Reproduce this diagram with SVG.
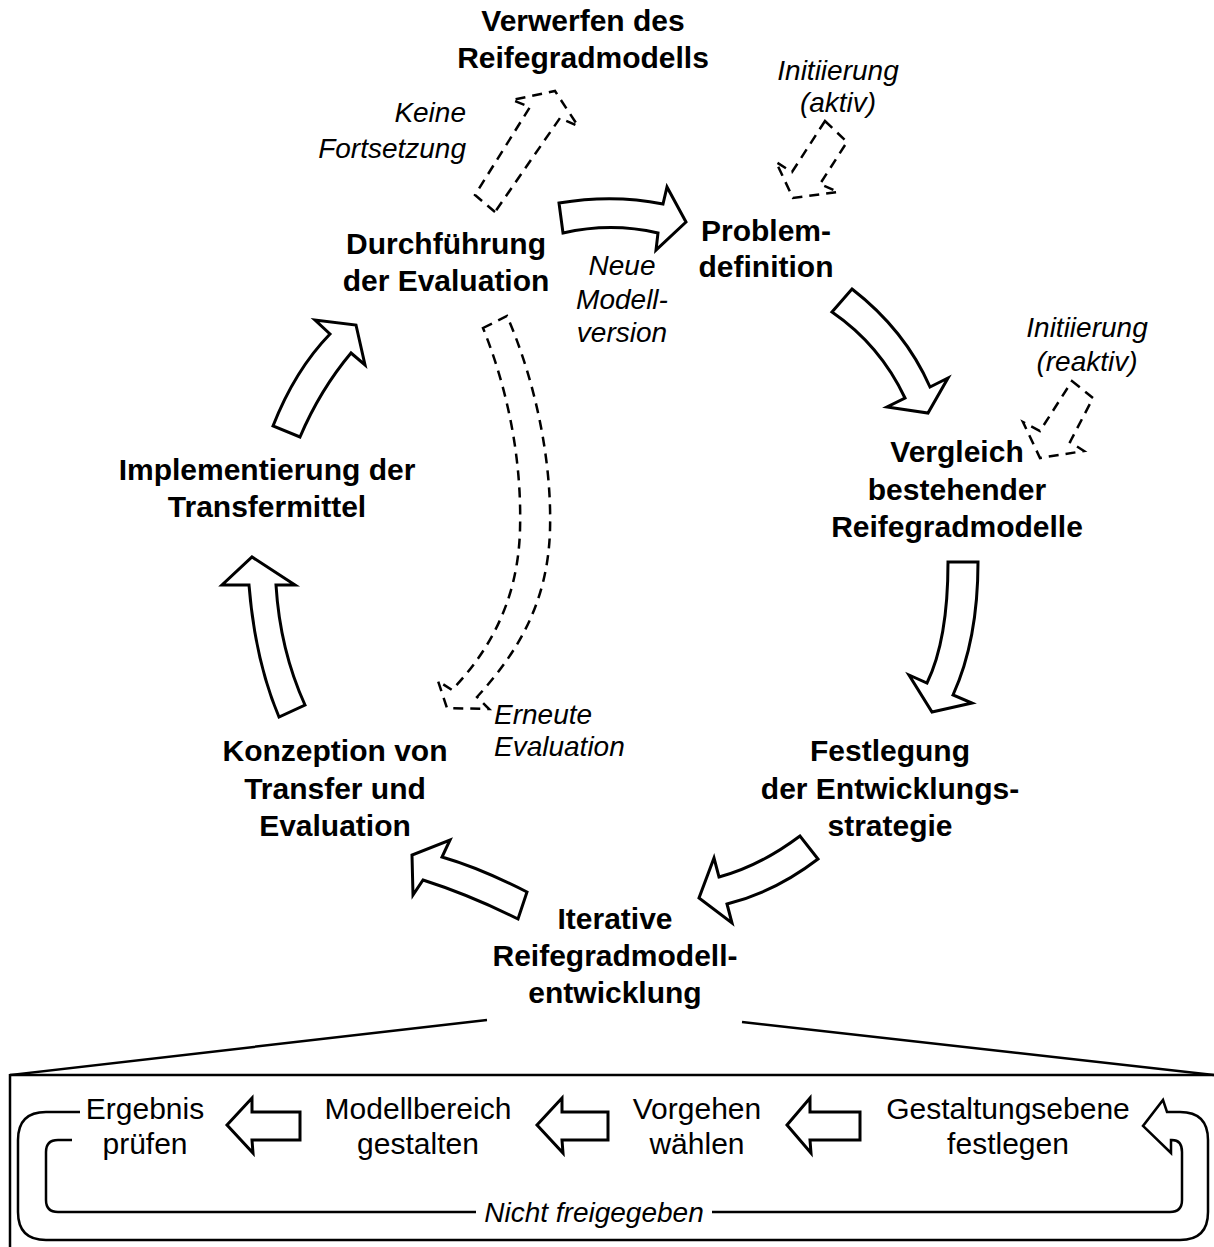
<svg xmlns="http://www.w3.org/2000/svg" width="1214" height="1247" viewBox="0 0 1214 1247">
<style>
.b{font-family:"Liberation Sans",Arial,sans-serif;font-weight:bold;font-size:30px;fill:#000;text-anchor:middle}
.i{font-family:"Liberation Sans",Arial,sans-serif;font-style:italic;font-size:28px;fill:#000}
.r{font-family:"Liberation Sans",Arial,sans-serif;font-size:30px;fill:#000;text-anchor:middle}
.a{fill:#fff;stroke:#000;stroke-width:3;stroke-linejoin:miter}
.d{fill:#fff;stroke:#000;stroke-width:2.5;stroke-dasharray:10 7}
.l{fill:none;stroke:#000;stroke-width:2.5}
</style>
<rect width="1214" height="1247" fill="#fff"/>
<g id="connectors">
<path class="a" d="M559,203 Q613,194 663,204 L667,187 L686,222 L656,250 L658,233 Q611,222 563,233 Z"/>
<path class="a" d="M852,289 Q905,330 930,387 L948,378 L928,413 L887,407 L905,398 Q880,345 832,312 Z"/>
<path class="a" d="M948,562 L978,562 Q978,640 953,695 L972,703 L932,712 L909,675 L927,683 Q948,640 948,562 Z"/>
<path class="a" d="M800,836 Q760,866 719,877 L714,858 L699,898 L732,923 L727,904 Q775,892 818,859 Z"/>
<path class="a" d="M527,892 Q480,868 442,857 L450,840 L412,855 L413,895 L423,880 Q470,895 518,919 Z"/>
<path class="a" d="M279,717 Q255,660 249,585 L222,585 L252,557 L295,585 L276,585 Q280,650 305,705 Z"/>
<path class="a" d="M273,426 Q295,370 330,334 L315,320 L356,325 L365,365 L351,353 Q320,390 300,437 Z"/>
<path class="d" d="M495,212 L475,195 L530,107 L512,100 L555,91 L578,126 L560,118 Z"/>
<path class="d" d="M825,121 L847,142 L820,184 L838,192 L793,198 L776,162 L792,172 Z"/>
<path class="d" d="M1072,381 L1093,398 L1070,442 L1084,451 L1040,458 L1023,422 L1040,431 Z"/>
<path class="d" d="M483,328 L507,316 C535,380 552,460 550,530 C548,600 520,650 477,697 L489,709 L447,708 L438,681 L452,690 C490,650 518,600 520,530 C522,460 508,390 483,328 Z"/>
<path class="l" d="M487,1020 L10,1075 L10,1260"/>
<path class="l" d="M10,1075 L1220,1075"/>
<path class="l" d="M742,1022 L1214,1075"/>
<path class="l" d="M80,1112 L46,1112 Q18,1112 18,1140 L18,1212 Q18,1240 46,1240 L1180,1240 Q1208,1240 1208,1212 L1208,1140 Q1208,1112 1180,1112 L1167,1112 L1163,1100 L1143,1126 L1171,1153 L1171,1140 L1172,1140 Q1182,1140 1182,1152 L1182,1200 Q1182,1212 1170,1212 L712,1212"/>
<path class="l" d="M476,1212 L58,1212 Q46,1212 46,1200 L46,1152 Q46,1140 58,1140 L72,1140"/>
<path class="a" d="M227,1125 L252,1098 L252,1112 L300,1112 L300,1140 L252,1140 L253,1153 Z"/>
<path class="a" d="M537,1125 L562,1098 L562,1112 L608,1112 L608,1140 L562,1140 L563,1153 Z"/>
<path class="a" d="M787,1125 L810,1098 L810,1112 L860,1112 L860,1140 L810,1140 L811,1153 Z"/>
</g>
<g id="n-verwerfen"><text class="b" x="583" y="31">Verwerfen des</text><text class="b" x="583" y="68">Reifegradmodells</text></g>
<g id="l-keine"><text class="i" x="466" y="122" text-anchor="end">Keine</text><text class="i" x="466" y="158" text-anchor="end">Fortsetzung</text></g>
<g id="l-init-aktiv"><text class="i" x="838" y="80" text-anchor="middle">Initiierung</text><text class="i" x="838" y="112" text-anchor="middle">(aktiv)</text></g>
<g id="n-durchfuehrung"><text class="b" x="446" y="254">Durchführung</text><text class="b" x="446" y="291">der Evaluation</text></g>
<g id="n-problem"><text class="b" x="766" y="241">Problem-</text><text class="b" x="766" y="277">definition</text></g>
<g id="l-neue"><text class="i" x="622" y="275" text-anchor="middle">Neue</text><text class="i" x="622" y="309" text-anchor="middle">Modell-</text><text class="i" x="622" y="342" text-anchor="middle">version</text></g>
<g id="l-init-reaktiv"><text class="i" x="1087" y="337" text-anchor="middle">Initiierung</text><text class="i" x="1087" y="371" text-anchor="middle">(reaktiv)</text></g>
<g id="n-vergleich"><text class="b" x="957" y="462">Vergleich</text><text class="b" x="957" y="500">bestehender</text><text class="b" x="957" y="537">Reifegradmodelle</text></g>
<g id="n-implementierung"><text class="b" x="267" y="480">Implementierung der</text><text class="b" x="267" y="517">Transfermittel</text></g>
<g id="n-festlegung"><text class="b" x="890" y="761">Festlegung</text><text class="b" x="890" y="799">der Entwicklungs-</text><text class="b" x="890" y="836">strategie</text></g>
<g id="n-konzeption"><text class="b" x="335" y="761">Konzeption von</text><text class="b" x="335" y="799">Transfer und</text><text class="b" x="335" y="836">Evaluation</text></g>
<g id="l-erneute"><text class="i" x="494" y="724">Erneute</text><text class="i" x="494" y="756">Evaluation</text></g>
<g id="n-iterative"><text class="b" x="615" y="929">Iterative</text><text class="b" x="615" y="966">Reifegradmodell-</text><text class="b" x="615" y="1003">entwicklung</text></g>
<g id="n-ergebnis"><text class="r" x="145" y="1119">Ergebnis</text><text class="r" x="145" y="1154">prüfen</text></g>
<g id="n-modellbereich"><text class="r" x="418" y="1119">Modellbereich</text><text class="r" x="418" y="1154">gestalten</text></g>
<g id="n-vorgehen"><text class="r" x="697" y="1119">Vorgehen</text><text class="r" x="697" y="1154">wählen</text></g>
<g id="n-gestaltung"><text class="r" x="1008" y="1119">Gestaltungsebene</text><text class="r" x="1008" y="1154">festlegen</text></g>
<g id="l-nicht"><text class="i" x="594" y="1222" text-anchor="middle">Nicht freigegeben</text></g>
</svg>
